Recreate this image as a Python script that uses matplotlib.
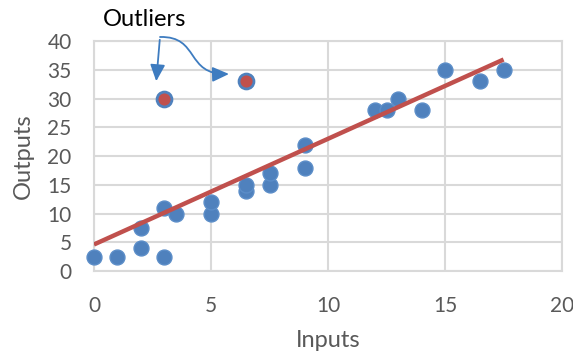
import matplotlib
matplotlib.use("Agg")
import matplotlib.pyplot as plt
import numpy as np
from matplotlib.patches import FancyArrowPatch
from matplotlib.path import Path

plt.rcParams['font.family'] = ['Lato', 'DejaVu Sans']

# Regular observations
inputs = [0, 1, 2, 2, 3, 3, 3.5, 5, 5, 6.5, 6.5, 7.5, 7.5, 9, 9,
          12, 12.5, 13, 14, 15, 16.5, 17.5]
outputs = [2.5, 2.5, 4, 7.5, 2.5, 11, 10, 10, 12, 14, 15, 15, 17, 18, 22,
           28, 28, 30, 28, 35, 33, 35]
# Outlying observations
outlier_inputs = [3, 6.5]
outlier_outputs = [30, 33]

x_ticks = [0, 5, 10, 15, 20]
y_ticks = [0, 5, 10, 15, 20, 25, 30, 35, 40]

blue = '#4F81BD'
red = '#C0504D'
grid = '#D9D9D9'
text_gray = '#595959'

fig = plt.figure(figsize=(5.73, 3.54), dpi=100)
ax = fig.add_axes([0.164, 0.234, 0.817, 0.650])

ax.set_xlim(0, 20)
ax.set_ylim(0, 40)
ax.set_xticks(x_ticks)
ax.set_yticks(y_ticks)
ax.grid(True, color=grid, linewidth=1.5, zorder=0)
for s in ax.spines.values():
    s.set_color(grid)
    s.set_linewidth(1.5)
ax.tick_params(length=0, labelsize=15, colors=text_gray)
ax.tick_params(axis='y', pad=16)
ax.tick_params(axis='x', pad=18)

ax.scatter(inputs, outputs, s=115, color=blue, edgecolor='#5B8DC8',
           linewidth=1, zorder=3, clip_on=False)
ax.scatter(outlier_inputs, outlier_outputs, s=115, color=red, edgecolor=blue,
           linewidth=2, zorder=3, clip_on=False)

# Least-squares trend line over every observation
all_x = np.array(inputs + outlier_inputs, dtype=float)
all_y = np.array(outputs + outlier_outputs, dtype=float)
slope, intercept = np.polyfit(all_x, all_y, 1)
xs = np.array([all_x.min(), all_x.max()])
ax.plot(xs, slope * xs + intercept, color=red, linewidth=3.2, zorder=4,
        solid_capstyle='butt')

ax.set_xlabel('Inputs', fontsize=17, color=text_gray, labelpad=10)
ax.set_ylabel('Outputs', fontsize=17, color=text_gray, labelpad=10)

# "Outliers" callout with two arrows (figure pixel coordinates)
W, H = 573, 354
def fp(px, py):
    return (px / W, 1 - py / H)

fig.text(*fp(145, 20), 'Outliers', fontsize=17, color='black',
         ha='center', va='center')

arrow_kw = dict(arrowstyle='-|>,head_length=10,head_width=4.5',
                color='#3E7CC0', linewidth=1.3, transform=fig.transFigure)
a1 = FancyArrowPatch(fp(160, 37), fp(156, 84), **arrow_kw)
fig.add_artist(a1)
p = Path([fp(160, 37), fp(200, 36), fp(185, 75), fp(229, 74)],
         [Path.MOVETO, Path.CURVE4, Path.CURVE4, Path.CURVE4])
a2 = FancyArrowPatch(path=p, **arrow_kw)
fig.add_artist(a2)

fig.savefig('out.png', dpi=100)
